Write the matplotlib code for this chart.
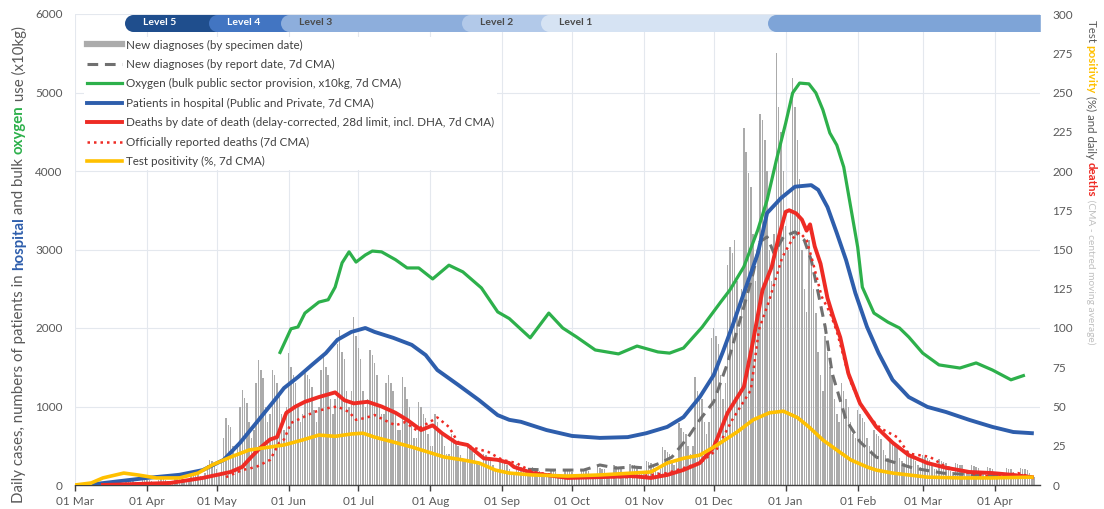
import numpy as np
import pandas as pd
import matplotlib
matplotlib.use('Agg')
import matplotlib.pyplot as plt
import matplotlib.dates as mdates
from matplotlib import transforms
from matplotlib.lines import Line2D

plt.rcParams['font.family'] = ['Lato', 'DejaVu Sans']

BASE = pd.Timestamp('2020-03-01')

# ---------------- data ----------------
# daily new diagnoses by specimen date, starting 2020-03-01
cases_specimen = [
    0, 0, 0, 1, 2, 3, 3,
    2, 4, 5, 6, 8, 5, 3,
    10, 25, 30, 35, 40, 28, 20,
    30, 45, 50, 60, 55, 40, 35,
    40, 60, 70, 65, 60, 45, 35,
    40, 70, 75, 80, 70, 50, 40,
    50, 90, 100, 110, 90, 70, 50,
    80, 150, 170, 190, 160, 120, 90,
    150, 250, 320, 300, 280, 200, 150,
    300, 600, 855, 770, 740, 500, 400,
    500, 1000, 1210, 1110, 1050, 800, 600,
    700, 1300, 1590, 1460, 1360, 1000, 800,
    900, 1465, 1400, 1300, 1200, 900, 700,
    1000, 1680, 1500, 1400, 1300, 1000, 800,
    900, 1430, 1400, 1350, 1250, 950, 800,
    1000, 1465, 1655, 1500, 1400, 1100, 900,
    1100, 1800, 1975, 1700, 1600, 1200, 1000,
    1200, 2140, 1900, 1750, 1600, 1200, 1000,
    1100, 1720, 1650, 1550, 1400, 1000, 900,
    900, 1300, 1400, 1300, 1200, 900, 700,
    700, 1375, 1250, 1100, 1000, 800, 600,
    600, 1060, 1000, 900, 850, 650, 500,
    500, 900, 800, 700, 650, 500, 400,
    400, 650, 600, 550, 500, 380, 300,
    300, 500, 480, 430, 400, 300, 250,
    250, 400, 380, 350, 320, 250, 200,
    200, 330, 300, 280, 260, 200, 160,
    150, 270, 250, 230, 210, 160, 130,
    120, 230, 220, 200, 180, 140, 110,
    100, 150, 190, 180, 170, 130, 100,
    100, 200, 190, 180, 170, 130, 100,
    100, 210, 200, 190, 180, 140, 110,
    110, 230, 220, 210, 200, 150, 120,
    120, 250, 240, 230, 220, 160, 130,
    130, 270, 260, 250, 240, 180, 140,
    150, 300, 290, 280, 270, 200, 160,
    200, 485, 450, 420, 400, 300, 250,
    300, 790, 720, 680, 650, 500, 400,
    500, 1375, 1200, 1150, 1100, 800, 650,
    800, 1870, 2000, 1900, 1800, 1400, 1100,
    1300, 2800, 3030, 2955, 3120, 2600, 2000,
    2500, 4550, 4240, 3975, 3800, 3200, 2600,
    3000, 4730, 4650, 4395, 4000, 3000, 2600,
    3200, 5500, 4815, 4500, 4000, 3300, 3000,
    3500, 5185, 4815, 4400, 3900, 3000, 2500,
    2200, 3120, 2800, 2500, 2190, 1700, 1400,
    1200, 1900, 1700, 1500, 1400, 1100, 900,
    800, 1300, 1200, 1100, 1000, 800, 650,
    600, 950, 900, 850, 800, 600, 500,
    450, 700, 650, 620, 580, 450, 380,
    350, 550, 520, 500, 470, 350, 300,
    280, 450, 420, 400, 380, 300, 250,
    230, 380, 360, 340, 320, 250, 200,
    200, 330, 300, 290, 280, 220, 180,
    170, 280, 270, 260, 250, 190, 160,
    150, 250, 240, 230, 220, 170, 140,
    140, 230, 220, 210, 150, 120, 100,
    100, 150, 220, 210, 200, 160, 130,
    130, 220, 210, 200, 190, 150, 120,
    100,
]

# new diagnoses by report date (7d CMA); day offsets from 2020-03-01
report_day = [195, 205, 219, 226, 233, 240, 246, 252, 257, 264, 269, 275, 281, 288, 292, 295,
              298, 301, 305, 310, 314, 317, 320, 323, 326, 332, 338, 345, 352, 361, 374, 388,
              403, 412]
report_val = [200, 190, 190, 255, 215, 230, 215, 280, 355, 610, 830, 1060, 1555, 2270, 2700,
              3100, 3160, 2950, 3160, 3225, 3120, 2865, 2445, 2015, 1425, 830, 550, 355, 295,
              215, 150, 130, 100, 100]

# oxygen (x10kg, 7d CMA)
o2_day = [88, 93, 96, 99, 105, 109, 112, 115, 118, 121, 125, 128, 132, 138, 143, 148, 154, 161,
          167, 175, 182, 187, 196, 204, 210, 216, 224, 234, 242, 251, 256, 262, 270, 278, 282,
          288, 294, 298, 302, 306, 309, 312, 316, 319, 322, 325, 328, 331, 334, 337, 339, 344,
          350, 355, 359, 365, 372, 381, 388, 395, 403, 409]
o2_val = [1670, 1990, 2013, 2190, 2330, 2360, 2520, 2830, 2970, 2840, 2930, 2980, 2970, 2870,
          2765, 2765, 2625, 2800, 2715, 2510, 2205, 2120, 1875, 2190, 2000, 1885, 1720, 1670,
          1770, 1695, 1680, 1745, 2010, 2330, 2485, 2780, 3250, 3630, 4140, 4610, 4995, 5120,
          5110, 4995, 4780, 4485, 4330, 4050, 3540, 3030, 2520, 2190, 2075, 2000, 1885, 1680,
          1530, 1490, 1555, 1465, 1340, 1400]

# patients in hospital (7d CMA)
hosp_day = [8, 31, 45, 55, 64, 71, 78, 87, 90, 96, 102, 108, 113, 119, 125, 129, 137, 145, 151,
            156, 165, 174, 182, 187, 192, 203, 214, 226, 238, 246, 255, 262, 269, 275, 279, 283,
            288, 294, 298, 304, 310, 317, 320, 324, 328, 332, 336, 341, 346, 352, 359, 367, 375,
            385, 395, 404, 412]
hosp_val = [10, 90, 130, 190, 320, 535, 790, 1120, 1235, 1375, 1530, 1680, 1850, 1950, 2000,
            1950, 1875, 1785, 1655, 1465, 1275, 1080, 890, 830, 805, 700, 625, 600, 610, 660,
            740, 865, 1120, 1400, 1700, 2020, 2445, 2950, 3465, 3655, 3800, 3820, 3760, 3540,
            3210, 2865, 2445, 2015, 1680, 1340, 1120, 995, 930, 830, 740, 675, 660]

# deaths by date of death (delay-corrected, 7d CMA) - right axis
death_day = [12, 41, 55, 61, 67, 72, 76, 80, 84, 87, 91, 95, 99, 105, 112, 116, 120, 126, 132,
             138, 143, 149, 154, 158, 164, 169, 176, 182, 187, 189, 197, 212, 226, 240, 248, 255,
             262, 269, 275, 281, 288, 292, 296, 300, 303, 306, 307.5, 310.5, 313, 315, 316.5,
             318.5, 321, 324, 326.5, 329.5, 333, 338, 345, 352, 359, 367, 375, 385, 395, 404, 412]
death_val = [0, 1.3, 4.5, 6.4, 8.3, 11.5, 18, 24, 29, 30.5, 46, 50, 53, 56, 59, 54, 52, 53, 50,
             46, 41.5, 35, 38, 33, 27, 25.5, 17, 16, 14, 11.5, 7.6, 4.5, 5, 5.7, 4.5, 6.4, 9.6,
             14, 24, 46, 62.5, 92, 124, 139, 158, 174, 175, 173, 169, 162, 166, 152, 141, 119,
             107, 94, 71, 52, 37, 27, 19, 14, 11, 8.3, 7.6, 6.4, 5]

# officially reported deaths (7d CMA) - right axis
rep_death_day = [65, 72, 78, 84, 88, 90, 93, 98, 103, 109, 113, 118, 121, 125, 129, 133, 138,
                 142, 147, 152, 156, 161, 165, 171, 178, 184, 190, 197, 212, 226, 240, 255, 269,
                 276, 283, 291, 294.5, 299, 304.5, 309, 312, 315, 317.5, 321.5, 325, 328, 333.6,
                 338, 342, 347, 354, 359, 368, 375, 385, 395, 406, 412]
rep_death_val = [5, 9.5, 11.5, 16, 27, 29, 39.5, 43, 46.5, 49, 50, 46.5, 41.5, 42.7, 44.6, 41.5,
                 38, 40, 35, 39.5, 43, 37, 27, 24, 21, 16, 14, 8.3, 5, 5, 5, 7.6, 14, 22, 41.5,
                 60.5, 99, 118, 145, 157, 161, 156, 143, 120, 110, 98, 67, 52, 43, 36, 30.5, 20,
                 18, 11.5, 7.6, 5, 7.6, 5]

# test positivity (%, 7d CMA) - right axis
pos_day = [0, 7, 12, 21, 27, 35, 45, 53, 59, 67, 75, 84, 90, 98, 105, 112, 119, 124, 129, 137,
           145, 152, 159, 167, 174, 181, 187, 197, 212, 226, 240, 248, 255, 262, 269, 276, 285,
           292, 299, 305, 311, 316, 322, 328, 334, 341, 345, 352, 367, 381, 395, 412]
pos_val = [0, 1.3, 4.5, 7.6, 6.4, 4.5, 4.5, 7.6, 12.7, 17.8, 22.3, 24.2, 25.5, 28.7, 31.8, 31,
           32.5, 33, 30.5, 27.4, 24.2, 21, 17.8, 16, 14, 9.5, 7.6, 6.4, 5.7, 6.4, 7.6, 8.3, 14,
           17, 19, 25, 33.7, 41.5, 46, 47, 43, 37, 28.7, 22.3, 16, 11.5, 9.5, 7.6, 5, 4.5, 4.5, 5]

# alert levels banner
level_names = ['Level 5', 'Level 4', 'Level 3', 'Level 2', 'Level 1', '']
level_start = ['2020-03-26', '2020-05-01', '2020-06-01', '2020-08-18', '2020-09-21', '2020-12-28']
level_colors = ['#1F4E8D', '#4275C2', '#8DAEDC', '#B2C9E9', '#D6E3F3', '#7EA4D7']
level_text_colors = ['white', 'white', '#4A4A4A', '#4A4A4A', '#4A4A4A', '#4A4A4A']

legend_labels = [
    'New diagnoses (by specimen date)',
    'New diagnoses (by report date, 7d CMA)',
    'Oxygen (bulk public sector provision, x10kg, 7d CMA)',
    'Patients in hospital (Public and Private, 7d CMA)',
    'Deaths by date of death (delay-corrected, 28d limit, incl. DHA, 7d CMA)',
    'Officially reported deaths (7d CMA)',
    'Test positivity (%, 7d CMA)',
]

# ---------------- helpers ----------------
def to_dates(days):
    return BASE + pd.to_timedelta(np.asarray(days, dtype=float), unit='D')

W, H = 1104, 509
fig = plt.figure(figsize=(W / 100, H / 100), dpi=100)
ax = fig.add_axes([75 / W, 24 / H, 965 / W, 471 / H])
ax2 = ax.twinx()

C_GREEN = '#2DB04B'
C_BLUE = '#2E5EAC'
C_RED = '#EE2B24'
C_YELLOW = '#FFC000'
C_GRAY = '#707070'
C_BAR = '#ABABAB'
C_TXT = '#595959'

bar_dates = BASE + pd.to_timedelta(np.arange(len(cases_specimen)), unit='D')
ax.bar(bar_dates, cases_specimen, width=0.62, color=C_BAR, edgecolor='none', zorder=2)
ax.plot(to_dates(report_day), report_val, color=C_GRAY, lw=2.2, ls=(0, (3.5, 2.2)), zorder=3)
ax.plot(to_dates(o2_day), o2_val, color=C_GREEN, lw=2.3, zorder=4, solid_capstyle='butt',
        solid_joinstyle='round')
ax.plot(to_dates(hosp_day), hosp_val, color=C_BLUE, lw=2.8, zorder=5, solid_joinstyle='round')

ax2.plot(to_dates(rep_death_day), rep_death_val, color=C_RED, lw=1.8, ls=(0, (1, 1.6)), zorder=3)
ax2.plot(to_dates(death_day), death_val, color=C_RED, lw=2.8, zorder=4, solid_joinstyle='round')
ax2.plot(to_dates(pos_day), pos_val, color=C_YELLOW, lw=2.6, zorder=5, solid_joinstyle='round')

x0 = BASE
x1 = BASE + pd.Timedelta(days=415.5)
ax.set_xlim(x0, x1)
ax.set_ylim(0, 6000)
ax2.set_ylim(0, 300)

ax.set_yticks(np.arange(0, 6001, 1000))
ax2.set_yticks(np.arange(0, 301, 25))
ax.xaxis.set_major_locator(mdates.MonthLocator())
ax.xaxis.set_major_formatter(mdates.DateFormatter('%d %b'))

ax.grid(True, color='#E4E8EE', lw=0.8, zorder=0)
ax.set_axisbelow(True)

for a in (ax, ax2):
    for s in ('top', 'left', 'right', 'bottom'):
        a.spines[s].set_visible(False)
ax.spines['bottom'].set_visible(True)
ax.spines['bottom'].set_color('#404040')
ax.spines['bottom'].set_linewidth(1.0)

ax.tick_params(axis='y', length=0, pad=9, labelsize=8.5, labelcolor=C_TXT)
ax2.tick_params(axis='y', length=0, pad=9, labelsize=8.5, labelcolor=C_TXT)
ax.tick_params(axis='x', length=4, width=1, color='#404040', pad=4, labelsize=8.5, labelcolor=C_TXT)

# banner of alert levels
btrans = transforms.blended_transform_factory(ax2.transData, ax2.transAxes)
ybar = 0.981
lw_pt = 17 * 72 / 100
x1n = mdates.date2num(x1)
for name, start, col, tcol in zip(level_names, level_start, level_colors, level_text_colors):
    sd = mdates.date2num(pd.Timestamp(start))
    ax2.plot([sd, x1n], [ybar, ybar], transform=btrans, color=col, lw=lw_pt,
             solid_capstyle='butt', clip_on=False, zorder=10)
    ax2.plot([sd], [ybar], transform=btrans, marker='o', ms=lw_pt, color=col, mew=0,
             clip_on=False, zorder=10)
    if name:
        ax2.annotate(name, xy=(sd, ybar), xycoords=btrans, xytext=(10, 0),
                     textcoords='offset pixels', ha='left', va='center', fontsize=7.5,
                     fontweight='bold', color=tcol, zorder=11, annotation_clip=False)
ax.set_xlim(x0, x1)

# legend
handles = [
    Line2D([], [], color=C_BAR, lw=4.5),
    Line2D([], [], color=C_GRAY, lw=2.2, ls=(0, (3.5, 2.2))),
    Line2D([], [], color=C_GREEN, lw=2.3),
    Line2D([], [], color=C_BLUE, lw=2.8),
    Line2D([], [], color=C_RED, lw=2.8),
    Line2D([], [], color=C_RED, lw=1.8, ls=(0, (1, 1.6))),
    Line2D([], [], color=C_YELLOW, lw=2.6),
]
leg = ax2.legend(handles, legend_labels, loc='upper left', bbox_to_anchor=(0.009, 0.952),
                 frameon=True, fontsize=8.4, labelspacing=0.72, handlelength=3.05,
                 handletextpad=0.3, borderpad=0.25, borderaxespad=0)
leg.get_frame().set_facecolor('white')
leg.get_frame().set_edgecolor('none')
leg.get_frame().set_alpha(1)
leg.set_zorder(20)
for t in leg.get_texts():
    t.set_color('#404040')

# multi-coloured rotated axis labels
renderer = fig.canvas.get_renderer()

def stacked_text(x_px, y_px, pieces, rotation):
    y = y_px
    for txt, kw in pieces:
        if rotation == 90:
            t = fig.text(x_px / W, y / H, txt, rotation=90, ha='center', va='bottom', **kw)
            bb = t.get_window_extent(renderer)
            y = bb.y1
        else:
            t = fig.text(x_px / W, y / H, txt, rotation=270, ha='center', va='top', **kw)
            bb = t.get_window_extent(renderer)
            y = bb.y0

LFS = 10.8
stacked_text(19, 6, [
    ('Daily cases, numbers of patients in ', dict(fontsize=LFS, color=C_TXT)),
    ('hospital', dict(fontsize=LFS, color=C_BLUE, fontweight='bold')),
    (' and bulk ', dict(fontsize=LFS, color=C_TXT)),
    ('oxygen', dict(fontsize=LFS, color=C_GREEN, fontweight='bold')),
    (' use (x10kg)', dict(fontsize=LFS, color=C_TXT)),
], 90)

RFS = 8.3
stacked_text(1091, 489, [
    ('Test ', dict(fontsize=RFS, color=C_TXT)),
    ('positivity', dict(fontsize=RFS, color=C_YELLOW, fontweight='bold')),
    (' (%) and daily ', dict(fontsize=RFS, color=C_TXT)),
    ('deaths', dict(fontsize=RFS, color=C_RED, fontweight='bold')),
    (' (CMA - centred moving average)', dict(fontsize=7.3, color='#C0C0C0')),
], 270)

fig.savefig('out.png', dpi=100)
